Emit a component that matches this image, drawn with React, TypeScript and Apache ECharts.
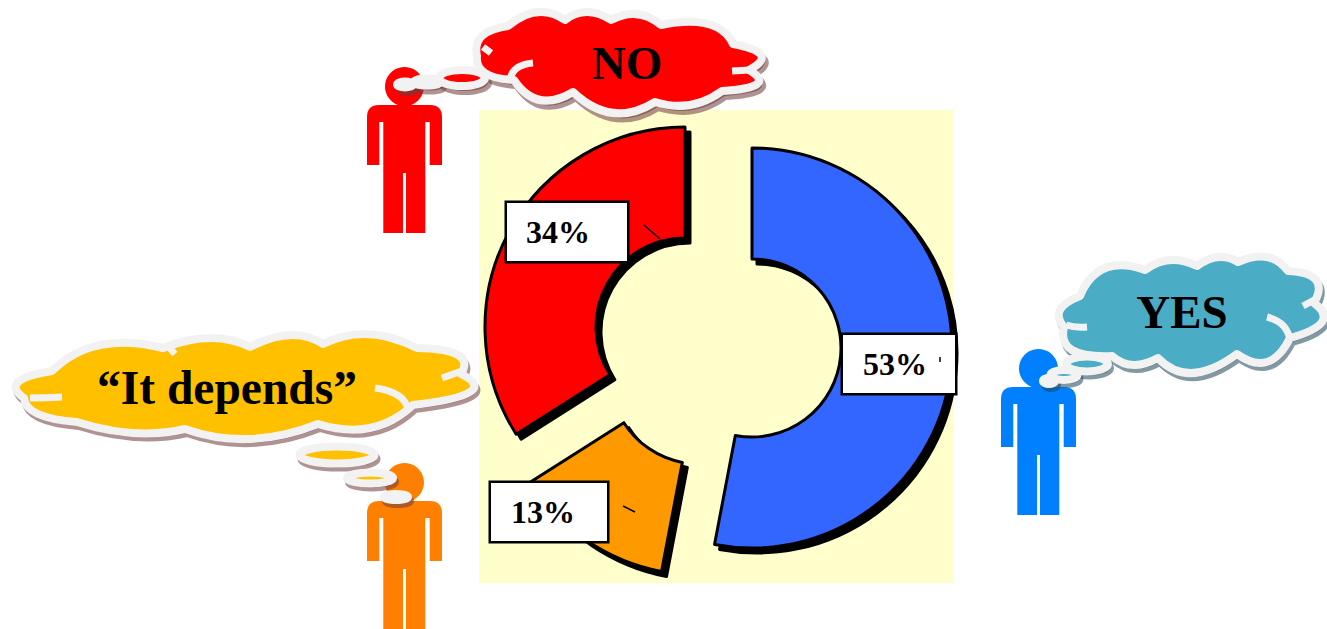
import React, { useEffect, useRef } from "react";
import * as echarts from "echarts";

const categories = ["YES", "It depends", "NO"];
const shares = [53, 13, 34];
const sliceColors = ["#3366FF", "#FF9900", "#FF0000"];
const sliceCenters = [[752, 348], [699, 375], [685, 327]];
const labelBoxes = [
  { x: 843, y: 335, w: 112, pad: 20 },
  { x: 491, y: 483, w: 116, pad: 20 },
  { x: 507, y: 203, w: 120, pad: 19 },
];
const leaderLines = [
  [940, 357, 940, 362],
  [623, 506, 635, 512],
  [644, 225, 660, 239],
];

const PERSON =
  "M37.5 0 A19.5 19.5 0 1 1 37.49 0 Z " +
  "M12 38 L63 38 Q75 38 75 50 L75 98 L62.7 98 L62.7 55 L58.3 55 L58.3 166 L39 166 L39 106 L36 106 L36 166 L16.3 166 L16.3 55 L12.3 55 L12.3 98 L0 98 L0 50 Q0 38 12 38 Z";

// Each lobe: point on the lobe's crest, then the notch where it ends.
function lobes(start: number[], rest: number[][]) {
  let d = `M${start[0]} ${start[1]}`;
  let p = start;
  rest.forEach(([px, py, ex, ey]) => {
    const cx = 2 * px - (p[0] + ex) / 2;
    const cy = 2 * py - (p[1] + ey) / 2;
    d += ` Q${cx} ${cy} ${ex} ${ey}`;
    p = [ex, ey];
  });
  return d + " Z";
}

const CLOUD_NO = lobes([477, 56], [
  [482, 36, 508, 26], [537, 12, 565, 20], [587, 12, 611, 20], [637, 14, 661, 25],
  [708, 24, 733, 44], [761, 55, 749, 70], [757, 84, 722, 91], [690, 105, 655, 102],
  [613, 113, 573, 92], [540, 100, 514, 80], [485, 73, 477, 56],
]);
const MARKS_NO = "M483 47 L491 53 M533 63 Q512 65 510 80 M732 71 L750 70";

const CLOUD_DEP = lobes([52, 371], [
  [100, 345, 163, 348], [210, 338, 250, 347], [290, 335, 323, 344], [368, 334, 417, 348],
  [458, 355, 461, 374], [470, 392, 413, 405], [370, 428, 318, 424], [250, 439, 185, 429],
  [133, 433, 77, 422], [38, 414, 24, 398], [18, 382, 52, 371],
]);
const MARKS_DEP = "M62 397 Q45 398 30 398 M375 388 Q405 392 408 410 M442 378 L462 371 M168 346 L175 354";

const CLOUD_YES = lobes([1080, 296], [
  [1105, 268, 1145, 270], [1170, 260, 1197, 266], [1218, 257, 1238, 262], [1267, 257, 1288, 271],
  [1316, 280, 1314, 303], [1322, 322, 1290, 338], [1267, 362, 1237, 354], [1193, 373, 1158, 358],
  [1133, 365, 1112, 356], [1072, 350, 1064, 327], [1060, 310, 1080, 296],
]);
const MARKS_YES = "M1087 327 Q1075 328 1066 325 M1267 317 Q1287 322 1290 340 M1303 306 L1316 299";

const OUTLINE = "#F2F2F2";

function register() {
  const reg = (n: string, d: string) =>
    echarts.graphic.registerShape(n, echarts.graphic.extendPath(d, {}));
  reg("person", PERSON);
  reg("cloudNo", CLOUD_NO);
  reg("marksNo", MARKS_NO);
  reg("cloudDep", CLOUD_DEP);
  reg("marksDep", MARKS_DEP);
  reg("cloudYes", CLOUD_YES);
  reg("marksYes", MARKS_YES);
}

type Bubble = [number, number, number, number, boolean];

function thought(
  cloud: string,
  marks: string,
  fill: string,
  shadow: string,
  dx: number,
  dy: number,
  bubbles: Bubble[],
  label: string,
  tx: number,
  ty: number,
  size: number
) {
  const els: any[] = [];
  els.push({
    type: cloud, x: dx, y: dy, z: 11,
    style: { fill: shadow, stroke: shadow, lineWidth: 8, opacity: 0.55 },
  });
  bubbles.forEach(([cx, cy, rx, ry]) =>
    els.push({
      type: "ellipse", z: 11, shape: { cx: cx + dx, cy: cy + dy, rx, ry },
      style: { fill: shadow, stroke: shadow, lineWidth: 8, opacity: 0.55 },
    })
  );
  els.push({
    type: cloud, z: 12,
    style: { fill, stroke: OUTLINE, lineWidth: 8, lineJoin: "round" },
  });
  els.push({
    type: marks, z: 13,
    style: { fill: "none", stroke: OUTLINE, lineWidth: 7 },
  });
  bubbles.forEach(([cx, cy, rx, ry, solid]) =>
    els.push({
      type: "ellipse", z: 12, shape: { cx, cy, rx, ry },
      style: { fill: solid ? OUTLINE : fill, stroke: OUTLINE, lineWidth: 8 },
    })
  );
  els.push({
    type: "text", x: tx, y: ty, z: 14,
    style: {
      text: label, fill: "#000",
      font: `bold ${size}px "Liberation Serif"`,
      align: "center", verticalAlign: "middle",
    },
  });
  return els;
}

export default function App() {
  const ref = useRef<HTMLDivElement>(null);
  useEffect(() => {
    register();
    const chart = echarts.init(ref.current!, undefined, { renderer: "svg" });
    const series = categories.map((_, i) => ({
      type: "pie",
      center: sliceCenters[i],
      radius: [89, 200],
      startAngle: 90,
      clockwise: true,
      silent: true,
      avoidLabelOverlap: false,
      labelLine: { show: false },
      labelLayout: {
        x: labelBoxes[i].x,
        y: labelBoxes[i].y,
        align: "left",
        verticalAlign: "top",
      },
      data: categories.map((name, j) => ({
        name,
        value: shares[j],
        itemStyle:
          j === i
            ? {
                color: sliceColors[i],
                borderColor: "#000",
                borderWidth: 3,
                shadowColor: "#000",
                shadowBlur: 1.5,
                shadowOffsetX: 5,
                shadowOffsetY: 5,
              }
            : { opacity: 0, borderWidth: 0 },
        label: {
          show: j === i,
          formatter: "{d}%",
          color: "#000",
          fontFamily: "Liberation Serif",
          fontWeight: "bold",
          fontSize: 32,
          backgroundColor: "#fff",
          borderColor: "#000",
          borderWidth: 2.5,
          align: "left",
          verticalAlign: "middle",
          lineHeight: 58,
          width: labelBoxes[i].w - labelBoxes[i].pad,
          height: 58,
          padding: [0, 0, 0, labelBoxes[i].pad],
        },
      })),
    }));
    const graphic: any[] = [
      {
        type: "rect", z: -1,
        shape: { x: 479, y: 110, width: 474, height: 473 },
        style: { fill: "#FFFFCC" },
      },
      { type: "person", x: 367, y: 67, z: 10, style: { fill: "#FF0000" } },
      { type: "person", x: 367, y: 463, z: 10, style: { fill: "#FF8000" } },
      { type: "person", x: 1001, y: 349, z: 10, style: { fill: "#0080FF" } },
      ...thought("cloudNo", "marksNo", "#FF0000", "#6E3A3A", 3, 5,
        [[462, 78, 23, 8, false], [427, 82, 13, 3.5, false], [405, 84.5, 8, 3, true]],
        "NO", 627, 63, 47),
      ...thought("cloudDep", "marksDep", "#FFC000", "#6E3A3A", 2, 4,
        [[337, 455, 37.5, 8.5, false], [370, 478, 23, 5.5, false], [396, 497, 12, 3, true]],
        "\u201CIt depends\u201D", 227, 388, 47.5),
      ...thought("cloudYes", "marksYes", "#4BACC6", "#1E4655", 2, 4,
        [[1087, 364, 21, 7.5, false], [1064, 375, 13.5, 5, false], [1049, 381, 6, 3, true]],
        "YES", 1182, 312, 47),
      ...leaderLines.map(([x1, y1, x2, y2]) => ({
        type: "line", z: 100,
        shape: { x1, y1, x2, y2 },
        style: { stroke: "#000", lineWidth: 1.5 },
      })),
    ];
    chart.setOption({ animation: false, series, graphic });
    return () => chart.dispose();
  }, []);
  return (
    <div
      ref={ref}
      style={{ position: "absolute", left: 0, top: 0, width: 1327, height: 629, background: "#fff" }}
    />
  );
}
